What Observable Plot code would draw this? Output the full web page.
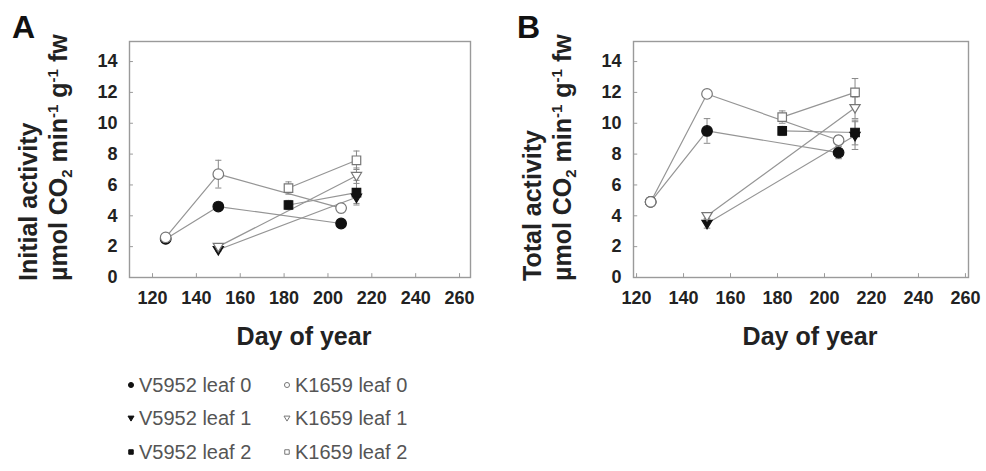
<!DOCTYPE html>
<html><head><meta charset="utf-8">
<script src="https://cdn.jsdelivr.net/npm/d3@7"></script>
<script src="https://cdn.jsdelivr.net/npm/@observablehq/plot@0.6"></script>
<style>
body{margin:0;background:#fff;}
#wrap{position:relative;width:986px;height:471px;overflow:hidden;font-family:"Liberation Sans",Arial,sans-serif;background:#fff;}
.panel{position:absolute;top:0;}
.leg{position:absolute;font-size:20px;color:#555;white-space:nowrap;line-height:1;}
.leg svg{vertical-align:middle;margin-right:3px;position:relative;top:-2px;}
</style></head><body><div id="wrap"></div>
<script>
// ---- data ----
const seriesNames = ["V5952 leaf 0","K1659 leaf 0","V5952 leaf 1","K1659 leaf 1","V5952 leaf 2","K1659 leaf 2"];
const leaf0Days = [126, 150, 206];
const leaf1Days = [150, 213];
const leaf2Days = [182, 213];
const xTicks = [120, 140, 160, 180, 200, 220, 240, 260];
const yTicks = [0, 2, 4, 6, 8, 10, 12, 14];

// Panel A: initial activity
const v5952Leaf0Init = [2.5, 4.6, 3.5];
const k1659Leaf0Init = [2.6, 6.7, 4.5];
const v5952Leaf1Init = [1.8, 5.2];
const k1659Leaf1Init = [2.0, 6.6];
const v5952Leaf2Init = [4.7, 5.5];
const k1659Leaf2Init = [5.8, 7.6];
const v5952Leaf0InitErr = [0.1, 0.2, 0.2];
const k1659Leaf0InitErr = [0.1, 0.9, 0.3];
const v5952Leaf1InitErr = [0.1, 0.4];
const k1659Leaf1InitErr = [0.1, 0.5];
const v5952Leaf2InitErr = [0.3, 0.8];
const k1659Leaf2InitErr = [0.4, 0.6];

// Panel B: total activity
const v5952Leaf0Tot = [4.9, 9.5, 8.1];
const k1659Leaf0Tot = [4.9, 11.9, 8.9];
const v5952Leaf1Tot = [3.5, 9.2];
const k1659Leaf1Tot = [4.0, 11.0];
const v5952Leaf2Tot = [9.5, 9.4];
const k1659Leaf2Tot = [10.4, 12.0];
const v5952Leaf0TotErr = [0.1, 0.8, 0.4];
const k1659Leaf0TotErr = [0.1, 0.2, 0.3];
const v5952Leaf1TotErr = [0.3, 0.9];
const k1659Leaf1TotErr = [0.2, 0.7];
const v5952Leaf2TotErr = [0.3, 0.8];
const k1659Leaf2TotErr = [0.4, 0.9];

// ---- build tables ----
function rows(days, vals, errs, series) {
  return days.map((d, i) => ({day: d, value: vals[i], err: errs[i], series}));
}
const initData = [
  rows(leaf0Days, v5952Leaf0Init, v5952Leaf0InitErr, seriesNames[0]),
  rows(leaf0Days, k1659Leaf0Init, k1659Leaf0InitErr, seriesNames[1]),
  rows(leaf1Days, v5952Leaf1Init, v5952Leaf1InitErr, seriesNames[2]),
  rows(leaf1Days, k1659Leaf1Init, k1659Leaf1InitErr, seriesNames[3]),
  rows(leaf2Days, v5952Leaf2Init, v5952Leaf2InitErr, seriesNames[4]),
  rows(leaf2Days, k1659Leaf2Init, k1659Leaf2InitErr, seriesNames[5])
];
const totData = [
  rows(leaf0Days, v5952Leaf0Tot, v5952Leaf0TotErr, seriesNames[0]),
  rows(leaf0Days, k1659Leaf0Tot, k1659Leaf0TotErr, seriesNames[1]),
  rows(leaf1Days, v5952Leaf1Tot, v5952Leaf1TotErr, seriesNames[2]),
  rows(leaf1Days, k1659Leaf1Tot, k1659Leaf1TotErr, seriesNames[3]),
  rows(leaf2Days, v5952Leaf2Tot, v5952Leaf2TotErr, seriesNames[4]),
  rows(leaf2Days, k1659Leaf2Tot, k1659Leaf2TotErr, seriesNames[5])
];

// ---- styles ----
const triangleDown = {
  draw(ctx, size) {
    const h = Math.sqrt(size * 1.25);
    ctx.moveTo(-h * 0.6, -h * 0.38);
    ctx.lineTo(h * 0.6, -h * 0.38);
    ctx.lineTo(0, h * 0.62);
    ctx.closePath();
  }
};
const symbols = ["circle", "circle", triangleDown, triangleDown, "square", "square"];
const dotR = [5.3, 5.3, 4.3, 4.3, 4.8, 4.8];
const filled = [true, false, true, false, true, false];
const FONT = '"Liberation Sans", Arial, sans-serif';
const LINE = "#959595";
const FRAME = "#9a9a9a";

function panel(data, opt) {
  const flat = data.flat();
  const [x0, x1] = opt.xDomain;
  const marks = [
    Plot.frame({stroke: FRAME, strokeWidth: 1.4}),
    Plot.ruleY(yTicks.filter(d => d > 0), {y: d => d, x1: x0, x2: x0 + 1.8, stroke: FRAME}),
    Plot.ruleX(xTicks, {x: d => d, y1: 0, y2: 0.25, stroke: FRAME}),
    Plot.line(flat, {x: "day", y: "value", z: "series", stroke: LINE, strokeWidth: 1.2}),
    Plot.ruleX(flat, {x: "day", y1: d => d.value - d.err, y2: d => d.value + d.err, stroke: "#8a8a8a", strokeWidth: 1}),
    Plot.link(flat, {x1: d => d.day - 1.4, x2: d => d.day + 1.4, y1: d => d.value + d.err, y2: d => d.value + d.err, stroke: "#8a8a8a"}),
    Plot.link(flat, {x1: d => d.day - 1.4, x2: d => d.day + 1.4, y1: d => d.value - d.err, y2: d => d.value - d.err, stroke: "#8a8a8a"}),
    ...data.map((s, i) => Plot.dot(s, {
      x: "day", y: "value", symbol: symbols[i], r: dotR[i],
      fill: filled[i] ? "#111" : "#fff",
      stroke: filled[i] ? "#111" : "#777", strokeWidth: 1.2
    })),
    Plot.axisX({ticks: xTicks, tickSize: 0, tickPadding: 14, fontSize: 18, fontWeight: "bold", label: null, tickFormat: d => d}),
    Plot.axisY({ticks: yTicks, tickSize: 0, tickPadding: 12, fontSize: 18, fontWeight: "bold", label: null})
  ];
  const svg = Plot.plot({
    width: opt.width, height: 360,
    marginLeft: opt.ml, marginRight: opt.mr, marginTop: 41, marginBottom: 83,
    x: {domain: opt.xDomain},
    y: {domain: [0, 15.3]},
    style: {fontFamily: FONT, color: "#222", background: "transparent", overflow: "visible"},
    marks
  });
  const s = d3.select(svg);
  const fl = opt.ml;
  // panel letter
  s.append("text").attr("x", opt.letterX).attr("y", 38).attr("font-size", 32).attr("font-weight", "bold")
    .attr("text-anchor", "start").attr("fill", "#111").attr("font-family", FONT).text(opt.letter);
  // y titles
  s.append("text").attr("transform", `translate(${fl - 92},281) rotate(-90)`)
    .attr("text-anchor", "start")
    .attr("font-size", 25).attr("font-weight", "bold").attr("fill", "#222").attr("font-family", FONT)
    .text(opt.yTitle);
  const t2 = s.append("text").attr("transform", `translate(${fl - 62},281) rotate(-90)`)
    .attr("text-anchor", "start")
    .attr("font-size", 25).attr("font-weight", "bold").attr("fill", "#222").attr("font-family", FONT);
  t2.append("tspan").text("\u00B5mol CO");
  t2.append("tspan").attr("font-size", 15).attr("dy", 5).text("2");
  t2.append("tspan").attr("dy", -5).text(" min");
  t2.append("tspan").attr("font-size", 15).attr("dy", -9).text("-1");
  t2.append("tspan").attr("dy", 9).text(" g");
  t2.append("tspan").attr("font-size", 15).attr("dy", -9).text("-1");
  t2.append("tspan").attr("dy", 9).text(" fw");
  // x title
  s.append("text").attr("x", opt.xTitleX).attr("y", 345).attr("text-anchor", "middle")
    .attr("font-size", 25).attr("font-weight", "bold").attr("fill", "#222").attr("font-family", FONT)
    .text("Day of year");
  return svg;
}

const wrap = document.getElementById("wrap");
const svgA = panel(initData, {width: 490, ml: 129, mr: 20, xDomain: [109.5, 265], letter: "A", letterX: 12,
  yTitle: "Initial activity", xTitleX: 304});
svgA.classList.add("panel"); svgA.style.left = "0px";
wrap.appendChild(svgA);
const svgB = panel(totData, {width: 486, ml: 133, mr: 18, xDomain: [118.7, 261.3], letter: "B", letterX: 17,
  yTitle: "Total activity", xTitleX: 310});
svgB.classList.add("panel"); svgB.style.left = "500px";
wrap.appendChild(svgB);

// ---- legend ----
const legendX = [126, 282];
const legendY = [385, 418, 452];
seriesNames.forEach((name, i) => {
  const col = i % 2, row = Math.floor(i / 2);
  const div = document.createElement("div");
  div.className = "leg";
  div.style.left = legendX[col] + "px";
  div.style.top = (legendY[row] - 10) + "px";
  const m = d3.create("svg").attr("width", 10).attr("height", 10);
  const sym = symbols[i] === "circle" ? d3.symbolCircle : symbols[i] === "square" ? d3.symbolSquare : triangleDown;
  m.append("path").attr("transform", "translate(5,5)")
    .attr("d", d3.symbol(sym, 20)())
    .attr("fill", filled[i] ? "#111" : "#fff").attr("stroke", filled[i] ? "#111" : "#777");
  div.appendChild(m.node());
  div.appendChild(document.createTextNode(name));
  wrap.appendChild(div);
});
</script></body></html>
